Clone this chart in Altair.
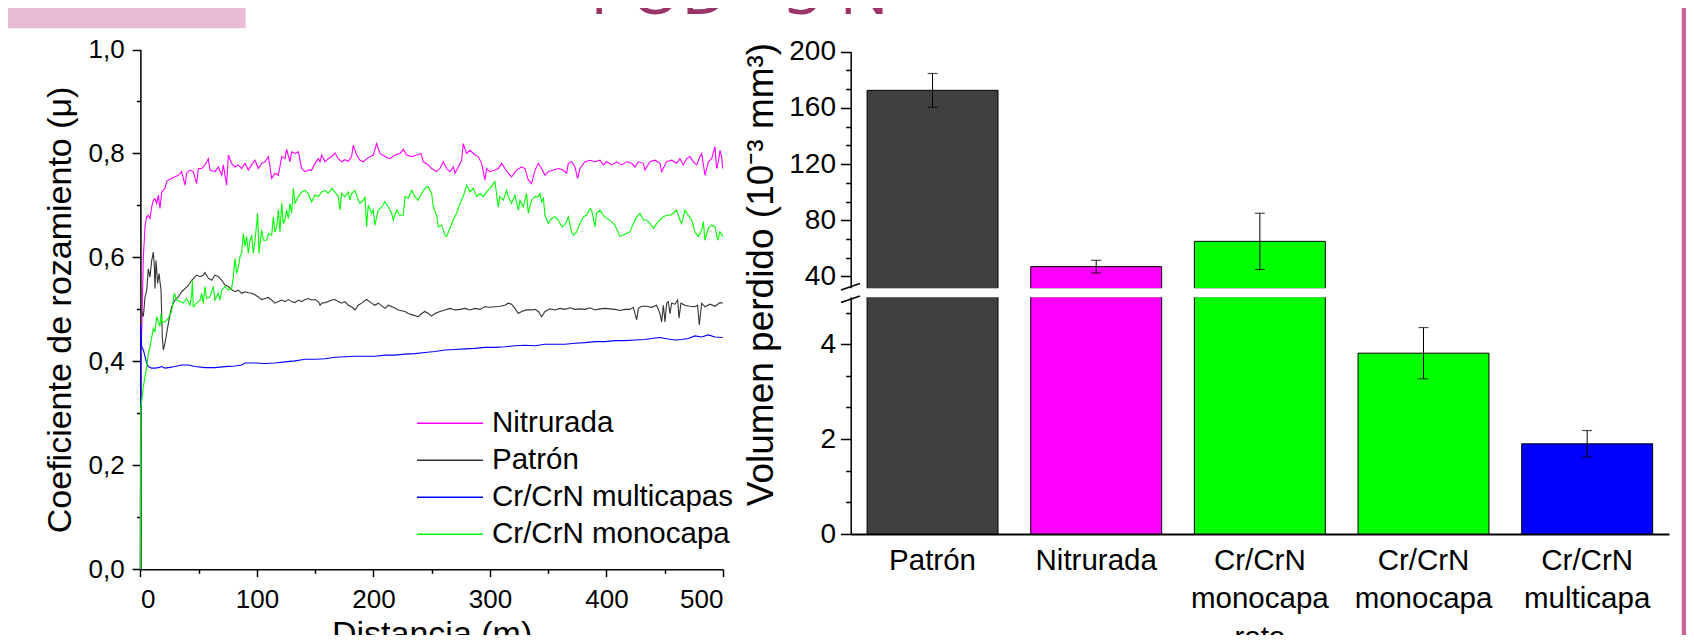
import altair as alt
import pandas as pd

# ---------------- data: friction curves (distance m, mu) ----------------
nitrurada = [
(0,0),(0.3,0.45),(1.1,0.454),(2.5,0.60),(4.0,0.66),(5.4,0.678),(6.8,0.681),(8.2,0.675),(9.7,0.697),(11.1,0.710),(12.5,0.713),(14.0,0.704),(15.4,0.720),(16.8,0.694),(18.3,0.726),(21.1,0.733),(22.5,0.746),(24.0,0.749),(26.8,0.752),(29.7,0.755),(32.6,0.758),(35.4,0.765),(38.3,0.739),(39.7,0.762),(42.6,0.768),(45.4,0.765),(48.3,0.742),(49.7,0.771),(52.6,0.771),(55.4,0.778),(58.3,0.790),(59.7,0.768),(64.0,0.765),(66.9,0.774),(69.8,0.758),(71.2,0.778),(74.0,0.739),(75.5,0.797),(78.3,0.781),(81.2,0.774),(84.1,0.778),(86.9,0.771),(89.8,0.781),(92.6,0.768),(95.5,0.778),(98.4,0.787),(101.2,0.771),(104.1,0.781),(107.0,0.784),(109.8,0.794),(111.2,0.774),(112.7,0.752),(115.5,0.762),(118.4,0.758),(121.3,0.794),(124.1,0.790),(125.5,0.808),(128.4,0.784),(129.8,0.803),(132.7,0.800),(135.6,0.803),(137.0,0.787),(138.4,0.771),(141.3,0.765),(144.1,0.768),(147.0,0.768),(149.9,0.781),(152.7,0.790),(154.2,0.784),(155.6,0.797),(158.5,0.784),(161.3,0.790),(164.2,0.794),(167.0,0.801),
(169.9,0.790),(172.7,0.784),(175.6,0.788),(178.4,0.785),(181.3,0.794),(182.7,0.816),(185.6,0.797),(188.5,0.787),(191.3,0.784),(195.6,0.792),(199.9,0.797),(202.8,0.819),(205.6,0.800),(209.9,0.794),(214.2,0.790),(218.5,0.797),(222.8,0.800),(225.7,0.808),(228.5,0.797),(232.8,0.794),(237.1,0.797),(240.8,0.800),(242.8,0.784),(247.1,0.778),(250.0,0.771),(254.3,0.765),(257.1,0.771),(260.0,0.784),(262.8,0.771),(265.7,0.765),(268.6,0.774),(270.0,0.762),(272.9,0.774),(275.7,0.787),(277.1,0.819),(280.0,0.800),(282.9,0.806),(287.2,0.797),(290.0,0.794),(292.9,0.781),(295.7,0.749),(297.2,0.771),(300.0,0.765),(304.3,0.768),(307.2,0.771),(310.1,0.781),(312.9,0.771),(315.8,0.762),(318.6,0.755),(322.9,0.768),(327.2,0.774),(330.1,0.771),(332.9,0.749),(335.8,0.742),(338.7,0.768),
(341.6,0.781),(344.4,0.771),(347.3,0.758),(350.1,0.765),(354.4,0.768),(358.7,0.771),(363.0,0.768),(365.9,0.762),(367.3,0.781),(370.2,0.784),(373.0,0.774),(375.3,0.752),(377.3,0.771),(381.6,0.784),(385.9,0.787),(390.2,0.784),(394.5,0.787),(397.3,0.778),(400.2,0.784),(404.5,0.778),(408.8,0.784),(413.1,0.778),(417.4,0.784),(421.7,0.781),(424.5,0.774),(427.4,0.784),(431.7,0.781),(433.1,0.768),(437.4,0.784),(441.7,0.787),(446.0,0.781),(447.4,0.765),(451.7,0.784),(456.0,0.787),(460.3,0.781),(463.1,0.790),(466.0,0.778),(468.9,0.790),(471.7,0.794),(474.6,0.784),(477.5,0.778),(480.3,0.794),(481.8,0.800),(484.6,0.758),(487.5,0.784),(490.3,0.790),(493.2,0.813),(494.6,0.771),(496.1,0.784),(497.5,0.806),(498.9,0.794),(499.8,0.771)]

patron = [
(0,0),(0.2,0.50),(2.5,0.486),(4.0,0.524),(5.4,0.537),(6.8,0.578),(8.2,0.562),(9.7,0.594),(11.1,0.610),(12.0,0.582),(12.5,0.540),(13.4,0.594),(14.8,0.550),(16.0,0.569),(17.7,0.537),(18.8,0.447),(19.7,0.422),(21.1,0.435),(24.0,0.473),(26.8,0.505),(29.7,0.518),(32.6,0.524),(35.4,0.534),(38.3,0.540),(41.1,0.546),(44.0,0.556),(48.3,0.566),(51.2,0.563),(54.0,0.566),(55.4,0.571),(58.3,0.560),(61.2,0.556),(64.0,0.566),(66.9,0.563),(69.8,0.556),(72.6,0.547),(75.5,0.544),(78.3,0.538),(81.2,0.534),(84.1,0.537),(86.9,0.531),(89.8,0.534),(92.6,0.532),(95.5,0.531),(98.4,0.528),(101.2,0.524),(104.1,0.519),(107.0,0.521),(109.8,0.523),(112.7,0.518),(115.5,0.512),(118.4,0.515),(121.3,0.518),(124.1,0.515),(127.0,0.519),(129.8,0.515),(132.7,0.513),(135.6,0.518),(138.4,0.515),(141.3,0.519),(144.1,0.521),(147.0,0.518),(149.9,0.519),(152.7,0.515),(154.2,0.508),(155.6,0.512),(158.5,0.513),(161.3,0.515),(164.2,0.518),(167.0,0.519),
(169.9,0.515),(172.7,0.512),(175.6,0.515),(178.4,0.508),(181.3,0.505),(184.2,0.499),(187.0,0.508),(189.9,0.512),(194.2,0.519),(198.5,0.512),(201.3,0.508),(204.2,0.512),(209.9,0.502),(212.8,0.508),(217.1,0.504),(221.4,0.499),(227.1,0.496),(229.9,0.492),(234.2,0.489),(238.5,0.486),(241.4,0.492),(244.2,0.496),(247.1,0.492),(250.0,0.487),(252.8,0.492),(257.1,0.496),(261.4,0.499),(265.7,0.502),(270.0,0.499),(274.3,0.500),(278.6,0.502),(282.9,0.499),(287.2,0.502),(291.5,0.500),(295.7,0.505),(300.0,0.504),(304.3,0.505),(308.6,0.506),(312.9,0.508),(315.8,0.512),(318.6,0.510),(321.5,0.502),(324.4,0.492),(327.2,0.496),(331.5,0.499),(335.8,0.499),(338.7,0.500),
(341.6,0.496),(344.4,0.486),(347.3,0.496),(351.6,0.501),(355.9,0.499),(360.2,0.502),(364.4,0.500),(368.7,0.503),(373.0,0.500),(377.3,0.501),(381.6,0.500),(385.9,0.503),(390.2,0.499),(394.5,0.501),(398.8,0.502),(403.1,0.501),(407.4,0.500),(411.7,0.498),(415.9,0.500),(420.2,0.500),(423.1,0.504),(426.0,0.480),(427.4,0.502),(430.3,0.506),(434.5,0.506),(438.8,0.504),(443.1,0.508),(446.0,0.492),(447.4,0.476),(448.9,0.508),(450.3,0.476),(451.7,0.512),(453.1,0.515),(454.6,0.492),(456.0,0.512),(458.9,0.510),(461.2,0.518),(462.3,0.483),(464.0,0.512),(467.4,0.508),(471.7,0.506),(476.0,0.505),(478.3,0.508),(479.7,0.470),(481.8,0.512),(484.6,0.505),(489.0,0.510),(493.2,0.506),(497.5,0.513),(499.8,0.512)]

multicapas = [
(0,0),(0.2,0.47),(1.1,0.428),(2.5,0.422),(4.0,0.409),(5.4,0.396),(6.8,0.390),(9.7,0.387),(12.5,0.387),(15.4,0.388),(18.3,0.390),(21.1,0.387),(24.0,0.388),(29.7,0.390),(35.4,0.393),(41.1,0.393),(46.9,0.390),(55.4,0.388),(64.0,0.388),(72.6,0.390),(81.2,0.391),(86.9,0.393),(89.8,0.397),(98.4,0.397),(107.0,0.396),(115.5,0.397),(124.1,0.399),(132.7,0.401),(141.3,0.404),(149.9,0.404),(158.5,0.405),(167.0,0.408),(175.6,0.409),(184.2,0.410),(192.7,0.410),(201.3,0.410),(209.9,0.412),(218.5,0.412),(227.1,0.414),(235.7,0.415),(244.2,0.417),(252.8,0.419),(261.4,0.422),(270.0,0.423),(278.6,0.424),(287.2,0.425),(295.7,0.427),(304.3,0.427),(312.9,0.428),(321.5,0.430),(330.1,0.431),(338.7,0.430),(347.3,0.433),(355.9,0.433),(364.4,0.433),(373.0,0.435),(381.6,0.436),(390.2,0.438),(398.8,0.438),(407.4,0.440),(415.9,0.440),(424.5,0.441),(433.1,0.442),(441.7,0.445),(446.0,0.446),(450.3,0.444),(458.9,0.441),(464.6,0.442),(470.3,0.444),(476.0,0.449),(481.8,0.447),(487.5,0.451),(493.2,0.447),(499.8,0.446)]

monocapa = [
(0,0),(0.3,0.31),(2.5,0.351),(5.4,0.390),(6.8,0.415),(8.2,0.428),(11.1,0.463),(12.5,0.457),(14.0,0.486),(16.8,0.467),(17.7,0.492),(18.3,0.476),(21.1,0.476),(24.0,0.483),(26.8,0.496),(29.1,0.531),(31.1,0.518),(34.0,0.515),(36.8,0.512),(39.7,0.521),(42.6,0.508),(44.0,0.528),(44.6,0.556),(45.4,0.505),(48.3,0.512),(51.2,0.518),(52.6,0.531),(54.0,0.512),(55.4,0.544),(56.9,0.521),(59.7,0.524),(62.6,0.544),(64.0,0.518),(66.9,0.531),(68.3,0.518),(69.8,0.537),(72.6,0.544),(75.5,0.537),(78.3,0.540),(79.8,0.563),(81.2,0.598),(82.6,0.569),(84.1,0.582),(85.5,0.601),(86.9,0.608),(88.4,0.646),(89.8,0.621),(91.2,0.640),(92.6,0.608),(94.1,0.633),(95.5,0.643),(96.9,0.608),(98.4,0.633),(100.6,0.685),(101.8,0.608),(104.1,0.653),(105.5,0.633),(108.4,0.633),(109.8,0.646),(112.7,0.643),(114.1,0.678),(115.5,0.649),(117.0,0.659),(118.4,0.691),(119.8,0.649),(121.3,0.704),(122.7,0.665),(124.1,0.672),(125.5,0.691),(127.0,0.675),(128.4,0.704),(129.8,0.685),(131.3,0.733),(132.7,0.704),(135.6,0.717),(138.4,0.726),(141.3,0.729),(144.1,0.723),(147.0,0.707),(149.9,0.720),(152.7,0.717),(155.6,0.726),(158.5,0.729),(161.3,0.723),(164.2,0.733),(167.0,0.726),
(169.9,0.717),(171.3,0.691),(172.7,0.723),(175.6,0.717),(178.4,0.726),(179.9,0.710),(181.3,0.723),(184.2,0.729),(185.6,0.720),(187.0,0.710),(188.5,0.704),(191.3,0.710),(192.7,0.717),(194.2,0.659),(195.6,0.701),(198.5,0.685),(199.9,0.691),(201.3,0.662),(204.2,0.691),(207.1,0.697),(209.9,0.707),(212.8,0.697),(215.6,0.685),(217.1,0.672),(219.9,0.691),(222.8,0.681),(225.7,0.681),(227.1,0.717),(229.9,0.714),(232.8,0.729),(235.7,0.717),(238.5,0.710),(241.4,0.723),(244.2,0.733),(247.1,0.736),(250.0,0.723),(251.4,0.697),(254.3,0.681),(255.7,0.659),(258.6,0.662),(261.4,0.643),(262.8,0.640),(265.7,0.656),(268.6,0.672),(271.4,0.685),(274.3,0.704),(277.1,0.717),(280.0,0.739),(282.9,0.726),(285.7,0.733),(288.6,0.717),(291.5,0.723),(294.3,0.717),(297.2,0.726),(300.0,0.733),(302.9,0.742),(304.3,0.746),(307.2,0.697),(308.6,0.717),(311.5,0.710),(314.3,0.729),(315.8,0.717),(318.6,0.704),(321.5,0.720),(324.4,0.691),(325.8,0.710),(328.6,0.697),(331.5,0.723),(332.9,0.685),(335.8,0.710),(338.7,0.717),
(341.6,0.717),(343.0,0.723),(344.4,0.707),(345.9,0.714),(347.3,0.681),(350.1,0.665),(353.0,0.675),(355.9,0.678),(358.7,0.672),(361.6,0.659),(364.4,0.662),(367.3,0.678),(370.2,0.649),(371.6,0.643),(374.5,0.649),(377.3,0.665),(380.2,0.678),(383.0,0.681),(385.9,0.694),(387.3,0.691),(390.2,0.659),(391.6,0.685),(394.5,0.691),(397.3,0.681),(400.2,0.675),(404.5,0.669),(407.4,0.662),(411.7,0.640),(414.5,0.643),(417.4,0.646),(420.2,0.649),(423.1,0.665),(426.0,0.678),(428.8,0.685),(431.7,0.672),(434.5,0.672),(437.4,0.665),(440.3,0.656),(443.1,0.665),(446.0,0.672),(448.9,0.678),(451.7,0.681),(454.6,0.681),(457.4,0.685),(460.3,0.691),(463.1,0.672),(464.6,0.665),(467.4,0.691),(470.3,0.681),(473.2,0.672),(476.0,0.649),(478.9,0.640),(481.8,0.653),(483.2,0.669),(484.6,0.633),(487.5,0.656),(490.3,0.662),(493.2,0.659),(495.5,0.633),(497.5,0.649),(499.8,0.640)]

series_names = ["Nitrurada", "Patrón", "Cr/CrN multicapas", "Cr/CrN monocapa"]
series_colors = ["#FF00FF", "#333333", "#0000FF", "#00FF00"]

# ---------------- data: worn volume bars ----------------
bar_categories = ["Patrón", "Nitrurada", "Cr/CrN\nmonocapa\nroto", "Cr/CrN\nmonocapa", "Cr/CrN\nmulticapa"]
bar_values = [172.5, 47.0, 65.0, 3.81, 1.90]
bar_errors = [12.0, 4.5, 20.0, 0.54, 0.28]
bar_colors = ["#404040", "#FF00FF", "#00FF00", "#00FF00", "#0000FF"]

left_y_ticks = [0, 0.2, 0.4, 0.6, 0.8, 1.0]
left_y_minor = [0.1, 0.3, 0.5, 0.7, 0.9]
left_x_ticks = [0, 100, 200, 300, 400, 500]
left_x_minor = [50, 150, 250, 350, 450]
upper_ticks = [40, 80, 120, 160, 200]
upper_minor = [53.33, 66.67, 93.33, 106.67, 133.33, 146.67, 173.33, 186.67]
lower_ticks = [0, 2, 4]
lower_minor = [0.667, 1.333, 2.667, 3.333, 4.667]

slide_title = "POD - 5 N"

# ---------------- build tables ----------------
rows = []
for name, pts in zip(series_names, [nitrurada, patron, multicapas, monocapa]):
    for d, m in pts:
        rows.append({"serie": name, "dist": d, "mu": m})
lines_df = pd.DataFrame(rows)

bars_df = pd.DataFrame({"cat": bar_categories, "value": bar_values,
                        "err": bar_errors, "color": bar_colors})
bars_df["lo"] = bars_df["value"] - bars_df["err"]
bars_df["hi"] = bars_df["value"] + bars_df["err"]

dummy = pd.DataFrame({"dist": [0.0], "mu": [0.0], "v": [0.0], "t": [slide_title]})

FONT = "Liberation Sans, Arial, sans-serif"
W, H = 1678, 627   # page 1694x643 minus 8px body margin on each side

xL = alt.Scale(domain=[0, 500], range=[132.4, 714.9], nice=False, zero=False)
yL = alt.Scale(domain=[0, 1], range=[561.3, 41.5], nice=False)
xB = alt.Scale(domain=bar_categories, range=[842.7, 1661.0], paddingInner=0.2, paddingOuter=0.1)
yU = alt.Scale(domain=[31.3, 200], range=[280.7, 43.7], nice=False, zero=False, clamp=True)
yD = alt.Scale(domain=[0, 5], range=[526.0, 288.7], nice=False, zero=False, clamp=True)

XOFF_L = -(H - 561.3)
XOFF_B = -(H - 526.0)

base_axis = dict(labelFont=FONT, labelColor="black", domainColor="black", tickColor="black",
                 titleFont=FONT, titleColor="black", titleFontWeight="normal", grid=False)


def minor_axis(orient, offset, values, size):
    return alt.Axis(orient=orient, offset=offset, values=values, labels=False, domain=False,
                    tickSize=size, tickWidth=1.5, tickColor="black", title=None, grid=False)


# ---------------- left chart ----------------
lines = alt.Chart(lines_df).mark_line(strokeWidth=1.1).encode(
    x=alt.X("dist:Q", scale=xL, axis=alt.Axis(
        orient="bottom", offset=XOFF_L, values=left_x_ticks, format="d",
        labelFontSize=26, labelPadding=9.8, tickSize=7.3, tickWidth=1.5, domainWidth=1.5,
        title="Distancia (m)", titleFontSize=34, titleX=423.6, titleY=75,
        titleBaseline="alphabetic", titleAlign="center", **base_axis)),
    y=alt.Y("mu:Q", scale=yL, axis=alt.Axis(
        orient="left", offset=-132.4, values=left_y_ticks,
        labelExpr="replace(format(datum.value, '.1f'), '.', ',')",
        labelFontSize=26, labelPadding=8, tickSize=8.3, tickWidth=1.5, domainWidth=1.5,
        title="Coeficiente de rozamiento (μ)", titleFontSize=34, titleX=-69.4, titleY=301.4,
        titleAngle=270, titleBaseline="alphabetic", titleAlign="center", **base_axis)),
    color=alt.Color("serie:N", scale=alt.Scale(domain=series_names, range=series_colors),
                    legend=alt.Legend(orient="none", legendX=408, legendY=397, title=None,
                                      labelFont=FONT, labelFontSize=29.5, labelColor="black",
                                      labelLimit=500, symbolType="stroke", symbolSize=4356,
                                      symbolStrokeWidth=1.5, labelOffset=8, clipHeight=36.7,
                                      rowPadding=0, padding=0)),
)

left_minor = alt.Chart(dummy).mark_point(opacity=0, size=1).encode(
    x=alt.X("dist:Q", scale=xL, axis=minor_axis("bottom", XOFF_L, left_x_minor, 4)),
    y=alt.Y("mu:Q", scale=yL, axis=minor_axis("left", -132.4, left_y_minor, 4)),
)

# ---------------- right chart (broken axis) ----------------
upper_bars = alt.Chart(bars_df).transform_filter("datum.value > 31.3").mark_bar(
    stroke="black", strokeWidth=1).encode(
    x=alt.X("cat:N", scale=xB, sort=None, axis=None),
    y=alt.Y("value:Q", scale=yU, axis=alt.Axis(
        orient="left", offset=-842.7, values=upper_ticks, format="d",
        labelFontSize=28, labelPadding=4.9, tickSize=10.3, tickWidth=1.5, domainWidth=1.5,
        title="Volumen perdido (10⁻³ mm³)", titleFontSize=37, titleX=-78.7, titleY=266,
        titleAngle=270, titleBaseline="alphabetic", titleAlign="center", **base_axis)),
    y2=alt.datum(31.3),
    fill=alt.Fill("color:N", scale=None),
)

lower_bars = alt.Chart(bars_df).mark_bar(stroke="black", strokeWidth=1).encode(
    x=alt.X("cat:N", scale=xB, sort=None, axis=alt.Axis(
        orient="bottom", offset=XOFF_B, ticks=False, tickSize=0, labelAngle=0,
        labelExpr="split(datum.label, '\\n')", labelFontSize=29.5, labelPadding=12,
        labelLineHeight=38.7, labelOverlap=False, labelLimit=0, domainWidth=2,
        title=None, **base_axis)),
    y=alt.Y("value:Q", scale=yD, axis=alt.Axis(
        orient="left", offset=-842.7, values=lower_ticks, format="d",
        labelFontSize=28, labelPadding=4.9, tickSize=10.3, tickWidth=1.5, domainWidth=1.5,
        title=None, **base_axis)),
    y2=alt.datum(0),
    fill=alt.Fill("color:N", scale=None),
)

upper_minor = alt.Chart(dummy).mark_point(opacity=0, size=1).encode(
    y=alt.Y("v:Q", scale=yU, axis=minor_axis("left", -842.7, upper_minor, 5)))
lower_minor_l = alt.Chart(dummy).mark_point(opacity=0, size=1).encode(
    y=alt.Y("v:Q", scale=yD, axis=minor_axis("left", -842.7, lower_minor, 5)))

up_err_rule = alt.Chart(bars_df).transform_filter("datum.value > 31.3").mark_rule(
    color="black", strokeWidth=1).encode(
    x=alt.X("cat:N", scale=xB, sort=None, axis=None),
    y=alt.Y("lo:Q", scale=yU, axis=None), y2="hi:Q")
up_err_cap = alt.Chart(bars_df).transform_filter("datum.value > 31.3").transform_fold(
    ["lo", "hi"], as_=["end", "ev"]).mark_tick(
    color="black", thickness=1.2, size=10, orient="horizontal").encode(
    x=alt.X("cat:N", scale=xB, sort=None, axis=None),
    y=alt.Y("ev:Q", scale=yU, axis=None))
lo_err_rule = alt.Chart(bars_df).transform_filter("datum.value < 5").mark_rule(
    color="black", strokeWidth=1).encode(
    x=alt.X("cat:N", scale=xB, sort=None, axis=None),
    y=alt.Y("lo:Q", scale=yD, axis=None), y2="hi:Q")
lo_err_cap = alt.Chart(bars_df).transform_filter("datum.value < 5").transform_fold(
    ["lo", "hi"], as_=["end", "ev"]).mark_tick(
    color="black", thickness=1.2, size=10, orient="horizontal").encode(
    x=alt.X("cat:N", scale=xB, sort=None, axis=None),
    y=alt.Y("ev:Q", scale=yD, axis=None))

# break gap and axis-break marks (decoration)
gap = alt.Chart(dummy).mark_rect(color="white").encode(
    x=alt.value(836), x2=alt.value(1664), y=alt.value(280.2), y2=alt.value(289.2))
slash1 = alt.Chart(dummy).mark_rule(color="black", strokeWidth=1.5).encode(
    x=alt.value(833), x2=alt.value(852), y=alt.value(282), y2=alt.value(275.5))
slash2 = alt.Chart(dummy).mark_rule(color="black", strokeWidth=1.5).encode(
    x=alt.value(833), x2=alt.value(852), y=alt.value(294.5), y2=alt.value(288))

# slide decorations
stripe = alt.Chart(dummy).mark_rect(color="#CC6398").encode(
    x=alt.value(1673.7), x2=alt.value(1678), y=alt.value(0), y2=alt.value(627))
pinkbox = alt.Chart(dummy).mark_rect(color="#EBBCD6").encode(
    x=alt.value(0), x2=alt.value(237.7), y=alt.value(0), y2=alt.value(20.3))
title_text = alt.Chart(dummy).mark_text(
    align="left", baseline="alphabetic", fontSize=66, color="#9B3468",
    font="Open Sans, Liberation Sans, sans-serif").encode(
    text="t:N", x=alt.value(582), y=alt.value(6))

chart = alt.layer(
    stripe, pinkbox, title_text,
    lower_bars, upper_bars, gap, upper_minor, lower_minor_l,
    up_err_rule, up_err_cap, lo_err_rule, lo_err_cap, slash1, slash2,
    left_minor, lines,
).resolve_scale(
    x="independent", y="independent", color="independent"
).properties(
    width=W, height=H, padding=0,
    autosize=alt.AutoSizeParams(type="none"),
).configure_view(stroke=None)

chart.save("out.html", embed_options={"renderer": "svg", "actions": False})
